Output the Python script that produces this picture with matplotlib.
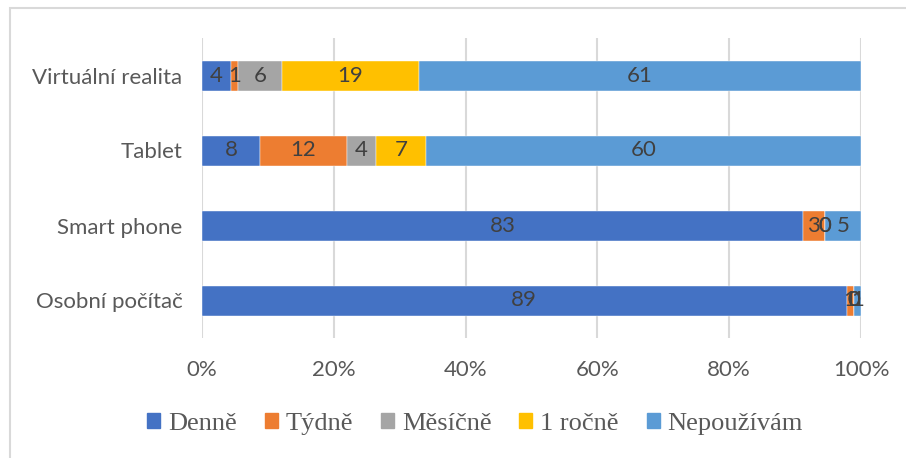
import numpy as np
import matplotlib.pyplot as plt
from matplotlib.patches import Patch, Rectangle

# Data (bottom to top)
categories = ["Osobní počítač", "Smart phone", "Tablet", "Virtuální realita"]
series = ["Denně", "Týdně", "Měsíčně", "1 ročně", "Nepoužívám"]
denne = [89, 83, 8, 4]
tydne = [1, 3, 12, 1]
mesicne = [0, 0, 4, 6]
rocne = [0, 0, 7, 19]
nepouzivam = [1, 5, 60, 61]
colors = ["#4472C4", "#ED7D31", "#A5A5A5", "#FFC000", "#5B9BD5"]

values = np.array([denne, tydne, mesicne, rocne, nepouzivam], dtype=float)
totals = values.sum(axis=0)
shares = values / totals * 100

fig = plt.figure(figsize=(9.06, 4.58), dpi=100)
ax = fig.add_axes([202 / 906, 1 - 338 / 458, 659 / 906, 300 / 458])

# chart frame
fig.patches.append(Rectangle((10 / 906, -0.1), 1.0, 1 - 8 / 458 + 0.1,
                             transform=fig.transFigure, fill=False,
                             edgecolor="#d9d9d9", linewidth=1.5))

y = np.arange(len(categories))
left = np.zeros(len(categories))
for i, name in enumerate(series):
    ax.barh(y, shares[i], left=left, height=0.4, color=colors[i],
            edgecolor="white", linewidth=0.3, label=name, zorder=3)
    for j in range(len(categories)):
        ax.text(left[j] + shares[i][j] / 2, y[j], f"{values[i][j]:.0f}",
                ha="center", va="center", fontsize=16, color="#404040",
                family="Lato", zorder=4)
    left += shares[i]

ax.set_xlim(0, 100)
ax.set_ylim(-0.5, 3.5)
ax.set_xticks(np.arange(0, 101, 20))
ax.set_xticklabels([f"{t}%" for t in range(0, 101, 20)])
ax.set_yticks(y)
ax.set_yticklabels(categories)
ax.grid(axis="x", color="#d9d9d9", linewidth=1.5, zorder=0)
for s in ax.spines.values():
    s.set_visible(False)
ax.tick_params(length=0, labelsize=16, labelcolor="#595959", pad=14)
ax.tick_params(axis="x", pad=16)
for lbl in ax.get_xticklabels() + ax.get_yticklabels():
    lbl.set_family("Lato")

handles = [Patch(color=c, label=s) for c, s in zip(colors, series)]
fig.legend(handles=handles, loc="center", bbox_to_anchor=(475 / 906, 1 - 424 / 458),
           ncol=5, frameon=False, handlelength=0.5, handleheight=0.5,
           handletextpad=0.3, columnspacing=1.05,
           prop={"family": "Liberation Serif", "size": 19},
           labelcolor="#595959")

fig.savefig("out.png", dpi=100)
